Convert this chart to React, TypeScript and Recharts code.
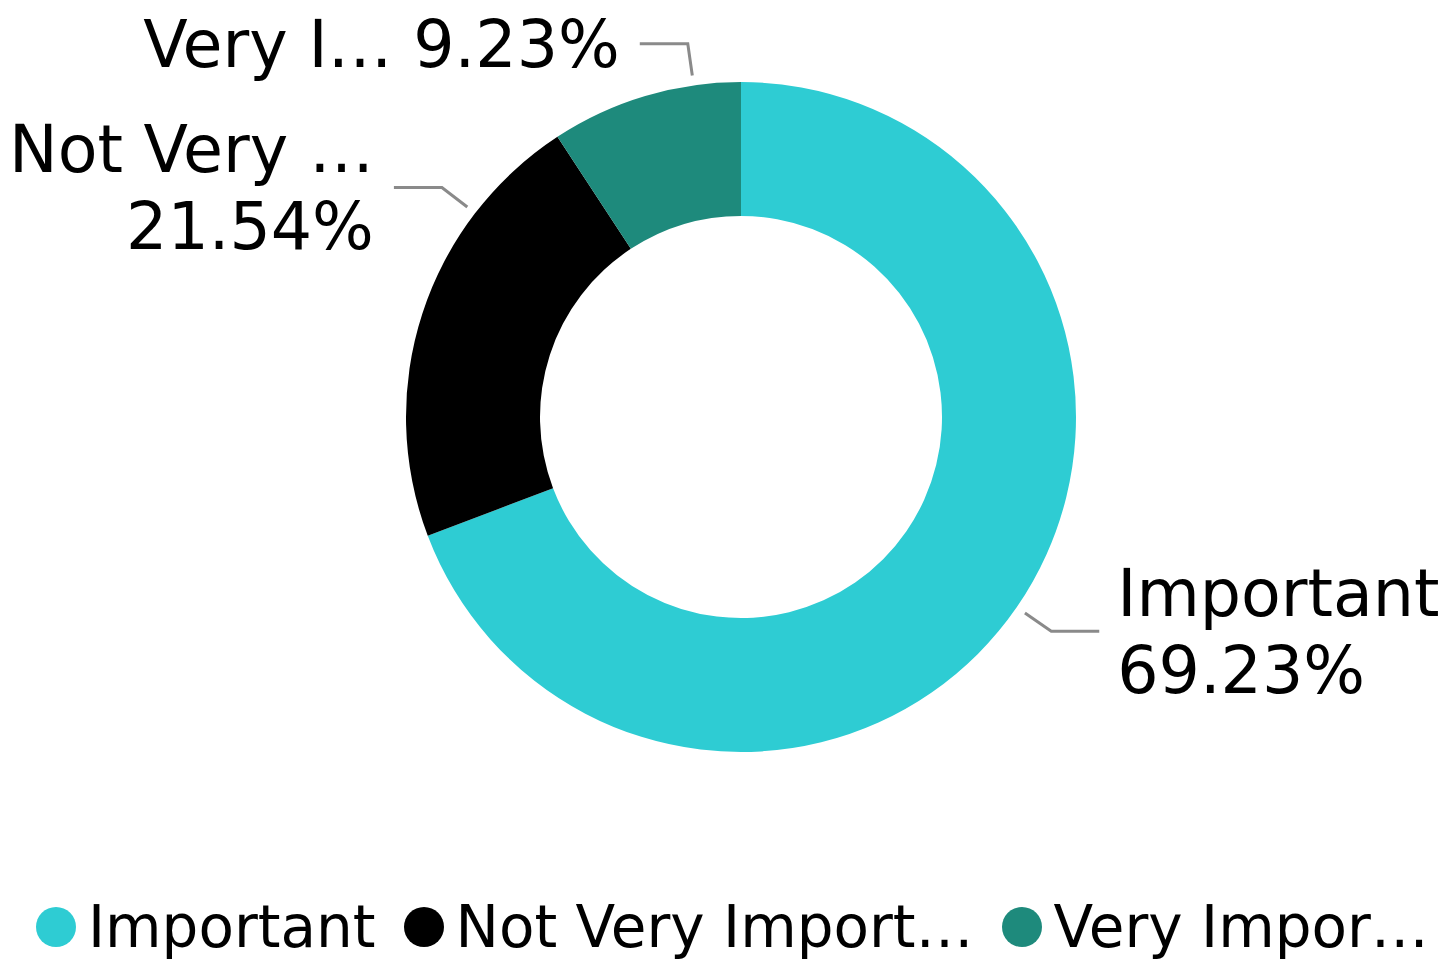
import { PieChart, Pie, Cell, Legend } from "recharts";

const CATEGORIES = ["Important", "Not Very Important", "Very Important"];
const COUNTS = [45, 14, 6];
const LABEL_NAMES = ["Important", "Not Very …", "Very I…"];
const LEGEND_NAMES = ["Important", "Not Very Import…", "Very Impor…"];
const COLORS = ["#2ECCD3", "#000000", "#1E8A7C"];

// label placement tweaks (leader lines get nudged away from each other)
const LABEL_SHIFT = [0, -19.5, -8.5];
const LABEL_WRAP = [true, true, false];

const FONT = "'DejaVu Sans', Verdana, sans-serif";
const RAD = Math.PI / 180;

const data = CATEGORIES.map((name, i) => ({ name, value: COUNTS[i] }));

function renderLabel(props: any) {
  const { cx, cy, midAngle, outerRadius, index, percent } = props;
  const angle = (midAngle + LABEL_SHIFT[index]) * RAD;
  const cos = Math.cos(angle);
  const sin = -Math.sin(angle);
  const r0 = outerRadius + 10;
  const r1 = outerRadius + 42;
  const sx = cx + r0 * cos;
  const sy = cy + r0 * sin;
  const ex = cx + r1 * cos;
  const ey = cy + r1 * sin;
  const right = cos >= 0;
  const hx = ex + (right ? 48 : -48);
  const tx = hx + (right ? 18 : -20);
  const pct = `${(percent * 100).toFixed(2)}%`;
  const anchor = right ? "start" : "end";
  const cap = 23;
  return (
    <g key={`lbl-${index}`}>
      <polyline
        points={`${sx},${sy} ${ex},${ey} ${hx},${ey}`}
        fill="none"
        stroke="#8a8a8a"
        strokeWidth={3}
      />
      {LABEL_WRAP[index] ? (
        <text x={tx} y={ey} textAnchor={anchor} fontFamily={FONT} fontSize={65} fill="#000">
          <tspan x={tx} y={ey - 38.5 + cap}>{LABEL_NAMES[index]}</tspan>
          <tspan x={tx} y={ey + 38.5 + cap}>{pct}</tspan>
        </text>
      ) : (
        <text x={tx} y={ey + cap} textAnchor={anchor} fontFamily={FONT} fontSize={65} fill="#000">
          {`${LABEL_NAMES[index]} ${pct}`}
        </text>
      )}
    </g>
  );
}

function renderLegend() {
  return (
    <div style={{ display: "flex", alignItems: "center", paddingLeft: 36, fontFamily: FONT }}>
      {LEGEND_NAMES.map((n, i) => (
        <div key={n} style={{ display: "flex", alignItems: "center", marginRight: 28 }}>
          <span
            style={{
              width: 40,
              height: 40,
              borderRadius: "50%",
              background: COLORS[i],
              marginRight: 12,
              display: "inline-block",
            }}
          />
          <span style={{ fontSize: 58, lineHeight: 1, color: "#000", whiteSpace: "nowrap" }}>{n}</span>
        </div>
      ))}
    </div>
  );
}

export default function App() {
  return (
    <div style={{ position: "absolute", left: 0, top: 0, width: 1450, height: 959, background: "#fff" }}>
      <PieChart width={1450} height={959} margin={{ top: 0, right: 0, bottom: 0, left: 0 }}>
        <Pie
          data={data}
          dataKey="value"
          nameKey="name"
          cx={741}
          cy={417}
          innerRadius={201}
          outerRadius={335}
          startAngle={90}
          endAngle={-270}
          stroke="none"
          label={renderLabel}
          labelLine={false}
          isAnimationActive={false}
        >
          {data.map((d, i) => (
            <Cell key={d.name} fill={COLORS[i]} />
          ))}
        </Pie>
        <Legend
          content={renderLegend}
          wrapperStyle={{ position: "absolute", left: 0, top: 898, width: 1450 }}
        />
      </PieChart>
    </div>
  );
}
